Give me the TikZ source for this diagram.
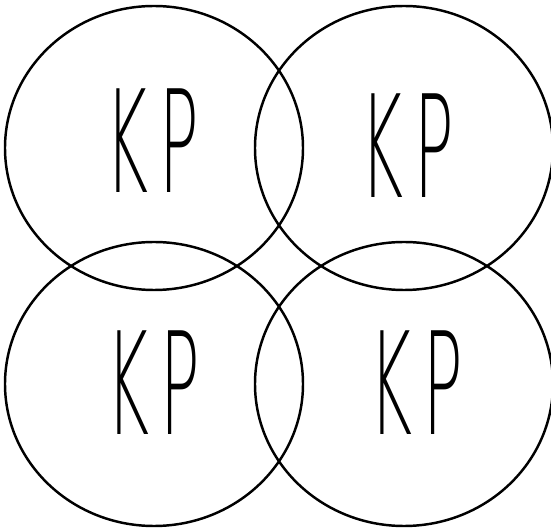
\documentclass[tikz,border=0pt]{standalone}
\usepackage{fontspec}
\usepackage{graphicx}
\usetikzlibrary{shapes.geometric}
\newfontfamily\kpfont{DejaVu Sans ExtraLight}
\newcommand{\kpmark}{\scalebox{0.46}[1]{K\hspace{14pt}P}}
\begin{document}
\begin{tikzpicture}[
  ring/.style={draw, ellipse, line width=1.4pt, minimum width=5.96cm, minimum height=5.68cm, inner sep=0pt},
  kp/.style={inner sep=0pt, text depth=0pt, font=\kpfont\fontsize{81}{81}\selectfont}]
\useasboundingbox (0,0) rectangle (11.02,10.56);
\node[ring] (tl) at (3.08,7.6) {};
\node[ring] (tr) at (8.08,7.6) {};
\node[ring] (bl) at (3.08,2.88) {};
\node[ring] (br) at (8.08,2.88) {};

\node[kp] (tlkp) at (3.04,7.74) {\kpmark};
\node[kp] (trkp) at (8.14,7.64) {\kpmark};
\node[kp] (blkp) at (3.06,2.9) {\kpmark};
\node[kp] (brkp) at (8.32,2.9) {\kpmark};
\end{tikzpicture}
\end{document}
